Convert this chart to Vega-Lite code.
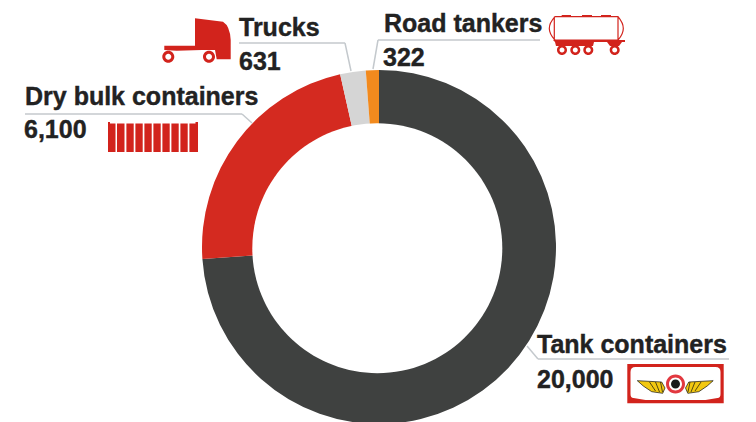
{"$schema":"https://vega.github.io/schema/vega-lite/v6.json","width":754,"height":350,"autosize":"none","padding":{"left":2,"top":72,"right":0,"bottom":0},"background":"white","view":{"stroke":null},"config":{"text":{"font":"Liberation Sans","fontWeight":"bold","fontSize":25,"align":"left","baseline":"alphabetic","fill":"#222222","stroke":"#222222","strokeWidth":0.4},"rule":{"stroke":"#c4c9cd","strokeWidth":1.5}},"data":{"values":[{"category":"Tank containers","value":20000,"rank":1},{"category":"Dry bulk containers","value":6100,"rank":2},{"category":"Trucks","value":631,"rank":3},{"category":"Road tankers","value":322,"rank":4}]},"layer":[{"mark":{"type":"arc","radius":177,"radius2":118},"encoding":{"theta":{"field":"value","type":"quantitative","stack":true},"order":{"field":"rank","type":"ordinal"},"color":{"field":"category","type":"nominal","legend":null,"scale":{"domain":["Tank containers","Dry bulk containers","Trucks","Road tankers"],"range":["#3f4140","#d42a20","#d5d5d5","#f28a1e"]}}}},{"transform":[{"filter":"datum.category==='Tank containers'"}],"mark":{"type":"point","filled":true,"opacity":1,"fill":"white","size":4,"shape":"M-125,0 A125,125 0 1 1 125,0 A125,125 0 1 1 -125,0 Z"},"encoding":{"x":{"value":375.3},"y":{"value":176.2}}},{"transform":[{"filter":"datum.category==='Trucks'"}],"layer":[{"mark":"rule","encoding":{"x":{"value":237},"x2":{"value":343},"y":{"value":-29},"y2":{"value":-29}}},{"mark":"rule","encoding":{"x":{"value":343},"x2":{"value":349},"y":{"value":-29},"y2":{"value":-1}}},{"mark":"text","encoding":{"x":{"value":237},"y":{"value":-36},"text":{"field":"category"}}},{"mark":"text","encoding":{"x":{"value":237},"y":{"value":-2},"text":{"field":"value","format":","}}},{"mark":{"type":"point","filled":true,"opacity":1,"fill":"#d2231c","size":4,"shape":"M0,-21.7 L28,-18.3 Q35,-14 35.7,0 L35.7,19.3 L21.7,19.3 L20,10 L6.7,10 L-18.3,10.7 L-30.7,10 L-30.7,5.7 L0,5.7 Z M-32.7,16.7 A6,6 0 1 1 -20.7,16.7 A6,6 0 1 1 -32.7,16.7 Z M-29.7,16.7 A3,3 0 1 0 -23.7,16.7 A3,3 0 1 0 -29.7,16.7 Z M8,16.7 A6,6 0 1 1 20,16.7 A6,6 0 1 1 8,16.7 Z M11,16.7 A3,3 0 1 0 17,16.7 A3,3 0 1 0 11,16.7 Z"},"encoding":{"x":{"value":193},"y":{"value":-32}}}]},{"transform":[{"filter":"datum.category==='Road tankers'"}],"layer":[{"mark":"rule","encoding":{"x":{"value":376},"x2":{"value":538},"y":{"value":-32},"y2":{"value":-32}}},{"mark":"rule","encoding":{"x":{"value":376},"x2":{"value":371},"y":{"value":-32},"y2":{"value":-3}}},{"mark":"text","encoding":{"x":{"value":382},"y":{"value":-40},"text":{"field":"category"}}},{"mark":"text","encoding":{"x":{"value":381},"y":{"value":-6},"text":{"field":"value","format":","}}},{"mark":{"type":"point","filled":false,"opacity":1,"stroke":"#d2231c","strokeWidth":1.2,"size":4,"shape":"M-33,-18.3 L30,-18.3 Q35.3,-12 35.3,-6.6 Q35.3,-1 30,5 L-33,5 Q-38.7,-1 -38.7,-6.6 Q-38.7,-12 -33,-18.3 Z M30,-18.3 L30,5 M-33.7,-18.3 L-33.7,5"},"encoding":{"x":{"value":586},"y":{"value":-37}}},{"mark":{"type":"point","filled":true,"opacity":1,"fill":"#d2231c","size":4,"shape":"M-26.3,-20 L-17,-20 L-17,-18 L-26.3,-18 Z M-6,-20 L4,-20 L4,-18 L-6,-18 Z M13,-20 L23,-20 L23,-18 L13,-18 Z M-35,5 L37,5 L37,7 L34,7 L31,11 L22,11 L19,7 L6,7 L5,11 L-32,11 L-33,7 Z M-31,15 A5,5 0 1 1 -21,15 A5,5 0 1 1 -31,15 Z M-28.5,15 A2.5,2.5 0 1 0 -23.5,15 A2.5,2.5 0 1 0 -28.5,15 Z M-17.7,15 A5,5 0 1 1 -7.7,15 A5,5 0 1 1 -17.7,15 Z M-15.2,15 A2.5,2.5 0 1 0 -10.2,15 A2.5,2.5 0 1 0 -15.2,15 Z M-4.7,15 A5,5 0 1 1 5.3,15 A5,5 0 1 1 -4.7,15 Z M-2.2,15 A2.5,2.5 0 1 0 2.8,15 A2.5,2.5 0 1 0 -2.2,15 Z M21.7,15 A5,5 0 1 1 31.7,15 A5,5 0 1 1 21.7,15 Z M24.2,15 A2.5,2.5 0 1 0 29.2,15 A2.5,2.5 0 1 0 24.2,15 Z"},"encoding":{"x":{"value":586},"y":{"value":-37}}}]},{"transform":[{"filter":"datum.category==='Dry bulk containers'"}],"layer":[{"mark":"rule","encoding":{"x":{"value":23},"x2":{"value":240},"y":{"value":42},"y2":{"value":42}}},{"mark":"rule","encoding":{"x":{"value":240},"x2":{"value":250},"y":{"value":42},"y2":{"value":51}}},{"mark":"text","encoding":{"x":{"value":23},"y":{"value":33},"text":{"field":"category"}}},{"mark":"text","encoding":{"x":{"value":22},"y":{"value":66},"text":{"field":"value","format":","}}},{"mark":{"type":"point","filled":true,"opacity":1,"fill":"#d2231c","size":4,"shape":"M-45,-15 L-43,-15 L-43,-13.5 L-37.5,-13.5 L-37.5,15 L-45,15 Z M-36,-13.5 L-28.5,-13.5 L-28.5,15 L-36,15 Z M-26.6,-13.5 L-19.3,-13.5 L-19.3,15 L-26.6,15 Z M-17.6,-13.5 L-10.3,-13.5 L-10.3,15 L-17.6,15 Z M-8.6,-13.5 L-1.3,-13.5 L-1.3,15 L-8.6,15 Z M0.4,-13.5 L7.7,-13.5 L7.7,15 L0.4,15 Z M9.4,-13.5 L16.7,-13.5 L16.7,15 L9.4,15 Z M18.4,-13.5 L25.7,-13.5 L25.7,15 L18.4,15 Z M27.4,-13.5 L34.7,-13.5 L34.7,15 L27.4,15 Z M36.4,-13.5 L42.5,-13.5 L42.5,-15 L45,-15 L45,15 L36.4,15 Z"},"encoding":{"x":{"value":151},"y":{"value":65}}}]},{"transform":[{"filter":"datum.category==='Tank containers'"}],"layer":[{"mark":"rule","encoding":{"x":{"value":536},"x2":{"value":727},"y":{"value":287},"y2":{"value":287}}},{"mark":"rule","encoding":{"x":{"value":536},"x2":{"value":525},"y":{"value":287},"y2":{"value":274}}},{"mark":"text","encoding":{"x":{"value":535},"y":{"value":281},"text":{"field":"category"}}},{"mark":"text","encoding":{"x":{"value":535},"y":{"value":316},"text":{"field":"value","format":","}}},{"mark":{"type":"point","filled":true,"opacity":1,"fill":"#d2231c","size":4,"shape":"M-48.2,-20 L48.2,-20 L48.2,19.3 L-48.2,19.3 Z M-45,-12 L-45,10 Q-45,14 -42,14 L-30,16 L30,16 L42,14 Q45,14 45,10 L45,-12 Q45,-17 40,-17 L-40,-17 Q-45,-17 -45,-12 Z"},"encoding":{"x":{"value":673.5},"y":{"value":312}}},{"mark":{"type":"point","filled":true,"opacity":1,"fill":"#f2c811","stroke":"#111111","strokeWidth":0.7,"size":4,"shape":"M-38.2,-3.3 L-13.8,-2 L-10.5,4 L-12.8,9.3 L-23.8,7.7 L-32.2,2 Z M-26,-2 L-20,7 M-20,-2 L-16,8 M-15,-2 L-13,8 M37.7,-3.3 L13.3,-2 L10,4 L12.3,9.3 L23.3,7.7 L31.7,2 Z M25.5,-2 L19.5,7 M19.5,-2 L15.5,8 M14.5,-2 L12.5,8"},"encoding":{"x":{"value":673.5},"y":{"value":312}}},{"mark":{"type":"point","filled":true,"opacity":1,"fill":"#e2383f","size":4,"shape":"M-9.5,0 A9.5,9.5 0 1 1 9.5,0 A9.5,9.5 0 1 1 -9.5,0 Z M-6.5,0 A6.5,6.5 0 1 0 6.5,0 A6.5,6.5 0 1 0 -6.5,0 Z"},"encoding":{"x":{"value":673.5},"y":{"value":312}}},{"mark":{"type":"point","filled":true,"opacity":1,"fill":"#1a1a1a","size":4,"shape":"M-4.5,0 A4.5,4.5 0 1 1 4.5,0 A4.5,4.5 0 1 1 -4.5,0 Z"},"encoding":{"x":{"value":673.5},"y":{"value":312}}}]}]}
